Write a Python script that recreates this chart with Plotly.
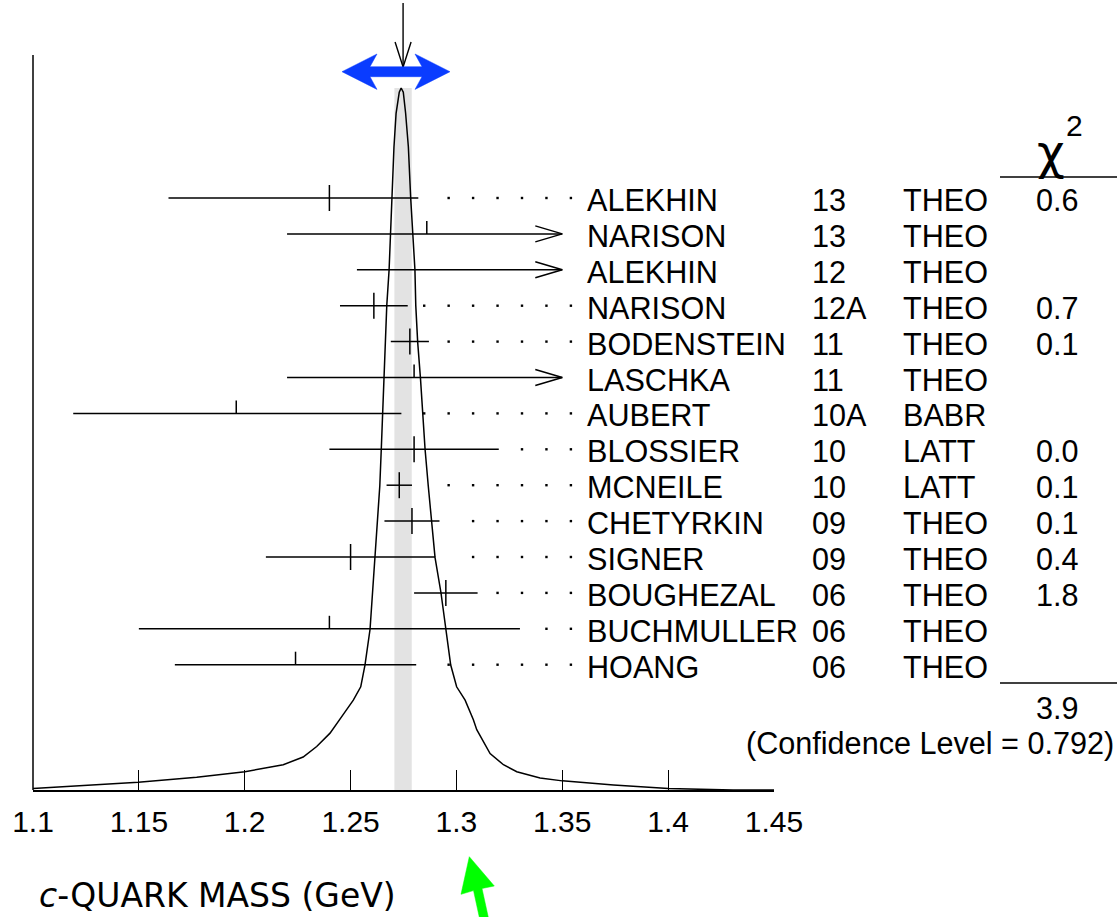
import plotly.graph_objects as go

# ---------------------------------------------------------------------------
# Charm quark mass determinations (GeV)
# ---------------------------------------------------------------------------
authors = ["ALEKHIN", "NARISON", "ALEKHIN", "NARISON", "BODENSTEIN", "LASCHKA",
           "AUBERT", "BLOSSIER", "MCNEILE", "CHETYRKIN", "SIGNER", "BOUGHEZAL",
           "BUCHMULLER", "HOANG"]
years = ["13", "13", "12", "12A", "11", "11", "10A", "10", "10", "09", "09",
         "06", "06", "06"]
techniques = ["THEO", "THEO", "THEO", "THEO", "THEO", "THEO", "BABR", "LATT",
              "LATT", "THEO", "THEO", "THEO", "THEO", "THEO"]
central = [1.240, 1.286, None, 1.261, 1.278, 1.280, 1.196, 1.280, 1.273,
           1.279, 1.250, 1.295, 1.240, 1.224]
lower = [1.164, 1.220, 1.253, 1.245, 1.269, 1.220, 1.119, 1.240, 1.267,
         1.266, 1.210, 1.280, 1.150, 1.167]
upper = [1.282, 1.350, 1.350, 1.277, 1.287, 1.350, 1.274, 1.320, 1.279,
         1.292, 1.290, 1.310, 1.330, 1.281]
upper_open = [False, True, True, False, False, True, False, False, False,
              False, False, False, False, False]
used_in_fit = [True, False, False, True, True, False, False, True, True,
               True, True, True, False, False]
chi2 = ["0.6", "", "", "0.7", "0.1", "", "", "0.0", "0.1", "0.1", "0.4",
        "1.8", "", ""]
chi2_total = "3.9"
confidence_level = "0.792"

# weighted average and its error
avg_value = 1.2748
avg_error = 0.0041

# ideogram (normalised to its maximum)
curve_mass = [1.1000, 1.1221, 1.1497, 1.1773, 1.2001, 1.2182, 1.2276, 1.2340,
              1.2403, 1.2464, 1.2513, 1.2548, 1.2568, 1.2592, 1.2604, 1.2615,
              1.2628, 1.2638, 1.2645, 1.2652, 1.2658, 1.2663, 1.2671, 1.2682,
              1.2688, 1.2697, 1.2705, 1.2715, 1.2730, 1.2739, 1.2749, 1.2760,
              1.2773, 1.2784, 1.2795, 1.2804, 1.2808, 1.2817, 1.2830, 1.2841,
              1.2852, 1.2867, 1.2883, 1.2899, 1.2927, 1.2949, 1.2973, 1.3001,
              1.3041, 1.3080, 1.3096, 1.3159, 1.3222, 1.3285, 1.3395, 1.3500,
              1.3742, 1.4001, 1.4307, 1.4500]
curve_density = [0.002, 0.006, 0.011, 0.018, 0.026, 0.036, 0.047, 0.062,
                 0.081, 0.107, 0.128, 0.147, 0.178, 0.229, 0.281, 0.331,
                 0.385, 0.433, 0.485, 0.536, 0.587, 0.638, 0.690, 0.741,
                 0.792, 0.843, 0.916, 0.964, 0.994, 1.000, 0.994, 0.964,
                 0.916, 0.843, 0.792, 0.741, 0.690, 0.638, 0.587, 0.536,
                 0.485, 0.433, 0.383, 0.331, 0.281, 0.229, 0.178, 0.147,
                 0.128, 0.100, 0.086, 0.052, 0.036, 0.026, 0.017, 0.013,
                 0.007, 0.002, 0.000, 0.000]

tick_values = [1.1, 1.15, 1.2, 1.25, 1.3, 1.35, 1.4, 1.45]
tick_labels = ["1.1", "1.15", "1.2", "1.25", "1.3", "1.35", "1.4", "1.45"]

# ---------------------------------------------------------------------------
# Page geometry (pixels)
# ---------------------------------------------------------------------------
W, H = 1117, 917
LEFT_PX, RIGHT_PX, AXIS_PX = 33, 774, 790
X_MIN, X_MAX = 1.1, 1.45
PX_PER_GEV = (RIGHT_PX - LEFT_PX) / (X_MAX - X_MIN)
PEAK_HEIGHT = 702          # height of the ideogram maximum above the axis
ROW_TOP_PX, ROW_STEP_PX = 198, 35.9
TICK_HALF = 13
DOT_STEP = 24.45 / PX_PER_GEV
DOT_GAP = 15.5 / PX_PER_GEV
DOT_LAST = 22
HEAD_LEN = 27 / PX_PER_GEV
HEAD_HALF = 8

LABEL_FONT = "Liberation Sans, Arial, Helvetica, sans-serif"
TEXT_SIZE = 30.6


def px_x(px):
    return (px - LEFT_PX) / (RIGHT_PX - LEFT_PX)


def px_y(py):
    return (AXIS_PX - py) / AXIS_PX


def row_y(i):
    return AXIS_PX - (ROW_TOP_PX + i * ROW_STEP_PX)


fig = go.Figure()

# average band
fig.add_shape(type="rect", xref="x", yref="y",
              x0=avg_value - avg_error, x1=avg_value + avg_error,
              y0=0, y1=PEAK_HEIGHT, fillcolor="#e3e3e3", line_width=0,
              layer="below")

# ideogram
fig.add_trace(go.Scatter(
    x=curve_mass, y=[d * PEAK_HEIGHT for d in curve_density],
    mode="lines", line=dict(color="black", width=1.5, shape="linear"),
    hoverinfo="skip", showlegend=False))

# error bars, central ticks, arrow heads and leader dots
bx, by, tx, ty, ax_, ay_, dx, dy = [], [], [], [], [], [], [], []
for i in range(len(authors)):
    y = row_y(i)
    bx += [lower[i], upper[i], None]
    by += [y, y, None]
    if central[i] is not None:
        tx += [central[i], central[i], None]
        ty += [y - TICK_HALF if used_in_fit[i] else y, y + TICK_HALF, None]
    if upper_open[i]:
        ax_ += [upper[i] - HEAD_LEN, upper[i], upper[i] - HEAD_LEN, None]
        ay_ += [y + HEAD_HALF, y, y - HEAD_HALF, None]
    for k in range(DOT_LAST + 1):
        xd = X_MIN + k * DOT_STEP
        if xd >= upper[i] + DOT_GAP:
            dx.append(xd)
            dy.append(y)

for xs, ys in ((bx, by), (tx, ty), (ax_, ay_)):
    fig.add_trace(go.Scatter(x=xs, y=ys, mode="lines",
                             line=dict(color="black", width=1.5),
                             hoverinfo="skip", showlegend=False,
                             cliponaxis=False))
fig.add_trace(go.Scatter(x=dx, y=dy, mode="markers",
                         marker=dict(color="black", size=2.4, symbol="square",
                                     line_width=0),
                         hoverinfo="skip", showlegend=False))

# left frame line
fig.add_shape(type="line", xref="paper", yref="paper",
              x0=0, x1=0, y0=0, y1=px_y(55), line=dict(color="black", width=1.5))

# arrow marking the average
top_y = AXIS_PX - 3
tip_y = AXIS_PX - 67
fig.add_trace(go.Scatter(
    x=[avg_value, avg_value, None, avg_value - 8 / PX_PER_GEV, avg_value,
       avg_value + 8 / PX_PER_GEV],
    y=[top_y, tip_y, None, tip_y + 25, tip_y, tip_y + 25],
    mode="lines", line=dict(color="black", width=1.4),
    hoverinfo="skip", showlegend=False, cliponaxis=False))

# blue double-headed arrow
cx, cy = 396, 71.7
blue_pts = [(-54, 0), (-19, -17.7), (-26, -5), (26, -5), (19, -17.7), (54, 0),
            (19, 17.7), (26, 5), (-26, 5), (-19, 17.7)]
path = "M " + " L ".join(f"{px_x(cx + a):.5f},{px_y(cy + b):.5f}"
                         for a, b in blue_pts) + " Z"
fig.add_shape(type="path", xref="paper", yref="paper", path=path,
              fillcolor="#0a3cff", line=dict(color="#0a3cff", width=0.5))

# green arrow
green_pts = [(469.3, 856.7), (494.3, 886), (482, 888.5), (490, 925),
             (481, 925), (473.5, 890.6), (461, 894.3)]
path = "M " + " L ".join(f"{px_x(a):.5f},{px_y(b):.5f}"
                         for a, b in green_pts) + " Z"
fig.add_shape(type="path", xref="paper", yref="paper", path=path,
              fillcolor="#00ff00", line=dict(color="#00ff00", width=0.5))

# table text
annotations = []
cols = [(585, authors), (810, years), (901, techniques), (1034, chi2)]
for i in range(len(authors)):
    yp = px_y(ROW_TOP_PX + i * ROW_STEP_PX + 2)
    for cpx, values in cols:
        if values[i]:
            annotations.append(dict(
                x=px_x(cpx), y=yp, xref="paper", yref="paper",
                text=values[i], showarrow=False, xanchor="left",
                yanchor="middle", font=dict(family=LABEL_FONT,
                                            size=TEXT_SIZE, color="black")))

annotations.append(dict(x=px_x(1034), y=px_y(708), xref="paper", yref="paper",
                        text=chi2_total, showarrow=False, xanchor="left",
                        yanchor="middle",
                        font=dict(family=LABEL_FONT, size=TEXT_SIZE,
                                  color="black")))
annotations.append(dict(x=px_x(1116), y=px_y(743), xref="paper", yref="paper",
                        text=f"(Confidence Level = {confidence_level})",
                        showarrow=False, xanchor="right", yanchor="middle",
                        font=dict(family=LABEL_FONT, size=TEXT_SIZE,
                                  color="black")))
# chi-square header
annotations.append(dict(x=px_x(1051), y=px_y(152), xref="paper", yref="paper",
                        text="χ", showarrow=False, xanchor="center",
                        yanchor="middle",
                        font=dict(family="DejaVu Sans, sans-serif", size=48,
                                  color="black")))
annotations.append(dict(x=px_x(1074), y=px_y(126), xref="paper", yref="paper",
                        text="2", showarrow=False, xanchor="center",
                        yanchor="middle",
                        font=dict(family=LABEL_FONT, size=30, color="black")))
# axis title
annotations.append(dict(x=px_x(37), y=px_y(895), xref="paper", yref="paper",
                        text="<i>c</i>-QUARK MASS (GeV)", showarrow=False,
                        xanchor="left", yanchor="middle",
                        font=dict(family="DejaVu Sans, sans-serif", size=33,
                                  color="black")))

for y_line in (177, 683):
    fig.add_shape(type="line", xref="paper", yref="paper",
                  x0=px_x(1000), x1=px_x(1117), y0=px_y(y_line),
                  y1=px_y(y_line), line=dict(color="black", width=1.3))

fig.update_layout(
    width=W, height=H,
    margin=dict(l=LEFT_PX, r=W - RIGHT_PX, t=0, b=H - AXIS_PX, pad=0),
    paper_bgcolor="white", plot_bgcolor="white",
    showlegend=False,
    annotations=annotations,
    xaxis=dict(range=[X_MIN, X_MAX], showgrid=False, zeroline=False,
               showline=True, linecolor="black", linewidth=2,
               ticks="inside", ticklen=20, tickwidth=1.3, tickcolor="black",
               tickvals=tick_values, ticktext=tick_labels,
               tickfont=dict(family=LABEL_FONT, size=30, color="black"),
               ticklabelstandoff=4, fixedrange=True),
    yaxis=dict(range=[0, AXIS_PX], visible=False, fixedrange=True),
)

fig.write_html("out.html")
